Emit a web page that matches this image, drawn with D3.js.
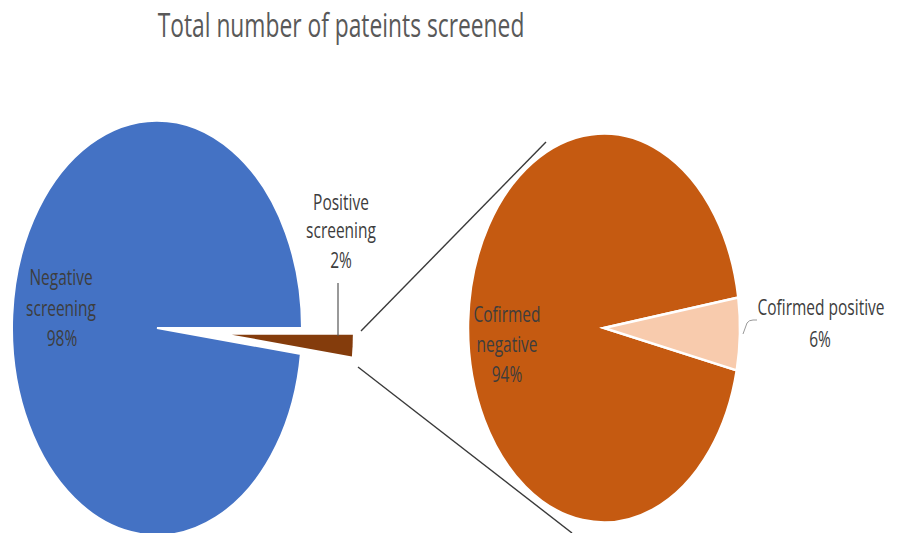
<!DOCTYPE html>
<meta charset="utf-8" />
<script src="https://d3js.org/d3.v7.min.js"></script>
<style>
  body { margin: 0; background: #fff; }
  text { font-family: "Open Sans", "Noto Sans", sans-serif; }
</style>
<div id="my_dataviz"></div>
<script>
  // data
  var screeningLabels = ["Negative screening", "Positive screening"];
  var screeningValues = [98, 2];
  var confirmLabels = ["Cofirmed negative", "Cofirmed positive"];
  var confirmValues = [94, 6];
  var screeningColors = ["#4472C4", "#843C0C"];
  var confirmColors = ["#C55A11", "#F8CBAD"];

  var width = 897, height = 533;
  var stretch = 1.43; // the picture is stretched vertically
  var deg = Math.PI / 180;

  var svg = d3.select("#my_dataviz")
    .append("svg")
    .attr("width", width)
    .attr("height", height);

  // title
  addText(svg, "Total number of pateints screened", 341, 37, 22.8, "#595959");

  // start so that the small slice begins at the given angle
  function makePie(values, smallStart) {
    var total = d3.sum(values);
    var s = smallStart - (values[0] / total) * 2 * Math.PI;
    return d3.pie().sort(null).startAngle(s).endAngle(s + 2 * Math.PI)(values);
  }

  // ---- left pie
  var left = { cx: 157, cy: 328, r: 145 };
  var leftArcs = makePie(screeningValues, 90 * deg);
  var gl = svg.append("g")
    .attr("transform", "translate(" + left.cx + "," + left.cy + ") scale(1," + stretch + ")");

  // big slice
  gl.append("path")
    .attr("d", d3.arc().innerRadius(0).outerRadius(left.r)(leftArcs[0]))
    .attr("fill", screeningColors[0])
    .attr("stroke", "#fff")
    .attr("stroke-width", 2)
    .attr("vector-effect", "non-scaling-stroke");

  // exploded small slice
  var sm = leftArcs[1];
  var mid = (sm.startAngle + sm.endAngle) / 2;
  var explode = 75;
  gl.append("path")
    .attr("transform", "translate(" + (explode * Math.sin(mid)) + "," + (-explode * Math.cos(mid)) + ")")
    .attr("d", d3.arc().innerRadius(0).outerRadius(121)(sm))
    .attr("fill", screeningColors[1]);

  // ---- right pie
  var right = { cx: 604, cy: 328, r: 136 };
  var rightArcs = makePie(confirmValues, 81 * deg);
  var gr = svg.append("g")
    .attr("transform", "translate(" + right.cx + "," + right.cy + ") scale(1," + stretch + ")");
  gr.selectAll("path")
    .data(rightArcs)
    .enter()
    .append("path")
    .attr("d", d3.arc().innerRadius(0).outerRadius(right.r))
    .attr("fill", function (d, i) { return confirmColors[i]; })
    .attr("stroke", "#fff")
    .attr("stroke-width", 2.5)
    .attr("vector-effect", "non-scaling-stroke");

  // connector lines between the pies
  var lineColor = "#3a3a3a";
  svg.append("line").attr("x1", 361).attr("y1", 331).attr("x2", 546).attr("y2", 142)
    .attr("stroke", lineColor).attr("stroke-width", 1.4);
  svg.append("line").attr("x1", 358).attr("y1", 367).attr("x2", 572).attr("y2", 533)
    .attr("stroke", lineColor).attr("stroke-width", 1.4);

  // leader lines
  svg.append("line").attr("x1", 338).attr("y1", 283).attr("x2", 338).attr("y2", 336)
    .attr("stroke", "#555").attr("stroke-width", 1.2);
  svg.append("path").attr("d", "M743,334 L747,323 Q749,320 753,320 L757,320")
    .attr("fill", "none").attr("stroke", "#999").attr("stroke-width", 1);

  // data labels
  var labelColor = "#3d3d3d";
  var fs = 15.5;
  function pct(v, vals) { return Math.round(v / d3.sum(vals) * 100) + "%"; }
  function words(s) { return s.split(" "); }

  var nl = words(screeningLabels[0]);
  addText(svg, nl[0], 61, 285, fs, labelColor);
  addText(svg, nl[1], 61, 316, fs, labelColor);
  addText(svg, pct(screeningValues[0], screeningValues), 62, 346, fs, labelColor);

  var pl = words(screeningLabels[1]);
  addText(svg, pl[0], 341, 210, fs, labelColor);
  addText(svg, pl[1], 341, 238, fs, labelColor);
  addText(svg, pct(screeningValues[1], screeningValues), 341, 268, fs, labelColor);

  var cn = words(confirmLabels[0]);
  addText(svg, cn[0], 507, 322, fs, labelColor);
  addText(svg, cn[1], 507, 352, fs, labelColor);
  addText(svg, pct(confirmValues[0], confirmValues), 507, 382, fs, labelColor);

  addText(svg, confirmLabels[1], 821, 315, fs, labelColor);
  addText(svg, pct(confirmValues[1], confirmValues), 820, 347, fs, labelColor);

  function addText(sel, str, x, y, size, color) {
    return sel.append("text")
      .attr("transform", "translate(" + x + "," + y + ") scale(1," + stretch + ")")
      .attr("text-anchor", "middle")
      .attr("font-size", size)
      .attr("fill", color)
      .text(str);
  }
</script>
